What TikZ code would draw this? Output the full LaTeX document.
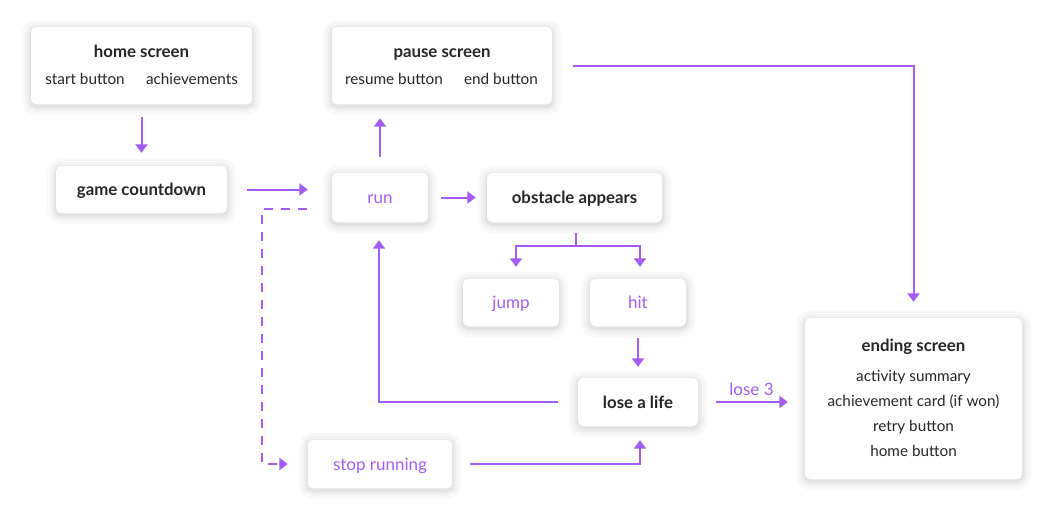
\documentclass[tikz,border=0pt]{standalone}
\usepackage{fontspec}
\setmainfont{Lato}
\usetikzlibrary{arrows.meta,calc}
\definecolor{purp}{HTML}{A35CF6}
\definecolor{ink}{HTML}{262626}
\begin{document}
\begin{tikzpicture}[x=1pt,y=-1pt,
  softshadow/.style={
    preaction={draw=black, draw opacity=0.022, line width=18pt, transform canvas={yshift=-2pt}},
    preaction={draw=black, draw opacity=0.025, line width=12pt, transform canvas={yshift=-2pt}},
    preaction={draw=black, draw opacity=0.03, line width=7pt, transform canvas={yshift=-2pt}},
    preaction={draw=black, draw opacity=0.035, line width=3pt, transform canvas={yshift=-2pt}}},
  box/.style={softshadow, fill=white, rounded corners=5pt, inner sep=0pt, text=ink},
  ttl/.style={font=\fontsize{16.8}{19}\selectfont\bfseries, text=ink, text height=13pt, text depth=1pt, inner sep=0pt},
  txt/.style={font=\fontsize{15.3}{18}\selectfont, text=ink, text height=12pt, text depth=1pt, inner sep=0pt},
  ptxt/.style={font=\fontsize{17}{19}\selectfont, text=purp, text height=13pt, text depth=1pt},
  conn/.style={draw=purp, line width=2pt},
  arr/.style={conn, -{Triangle[width=12pt,length=8.5pt]}},
  dasharr/.style={arr, dash pattern=on 9pt off 8pt}]
\useasboundingbox (0,0) rectangle (1054,523);
\fill[white] (0,0) rectangle (1054,523);

% boxes
\node[box, minimum width=221pt, minimum height=77pt] (home) at (141.5,65.5) {};
\node[box, minimum width=220pt, minimum height=77pt] (pause) at (442,65.5) {};
\node[box, minimum width=171pt, minimum height=47pt, ttl] (count) at (141.5,189.5) {game countdown};
\node[box, minimum width=96pt, minimum height=49pt, ptxt] (run) at (380,197.5) {run};
\node[box, minimum width=175pt, minimum height=49pt, ttl] (obst) at (574.5,197.5) {obstacle appears};
\node[box, minimum width=96pt, minimum height=47pt, ptxt] (jump) at (511,302.5) {jump};
\node[box, minimum width=96pt, minimum height=47pt, ptxt] (hit) at (638,302.5) {hit};
\node[box, minimum width=120pt, minimum height=48pt, ttl] (lose) at (638,402) {lose a life};
\node[box, minimum width=144pt, minimum height=48pt, ptxt] (stop) at (380,464) {stop running};
\node[box, minimum width=217pt, minimum height=161pt] (end) at (913.5,398.5) {};

% texts inside multi-line boxes
\node[ttl] (homet) at (141.5,51) {home screen};
\node[txt] (homea) at (85,79) {start button};
\node[txt] (homeb) at (192,79) {achievements};
\node[ttl] (pauset) at (442,51) {pause screen};
\node[txt] (pausea) at (394,79) {resume button};
\node[txt] (pauseb) at (501,79) {end button};
\node[ttl] (endt) at (913.5,345) {ending screen};
\node[txt] (enda) at (913.5,376) {activity summary};
\node[txt] (endb) at (913.5,401) {achievement card (if won)};
\node[txt] (endc) at (913.5,426) {retry button};
\node[txt] (endd) at (913.5,451) {home button};

% connectors
\draw[arr, shorten <=13pt, shorten >=13pt] (home.south) -- (count.north);
\draw[arr, shorten <=20pt, shorten >=24pt] (count.east) -- (count.east -| run.west);
\draw[arr, shorten <=16pt, shorten >=14pt] (run.north) -- (run.north |- pause.south);
\draw[arr, shorten <=13pt, shorten >=11pt] (run.east) -- (obst.west);
\coordinate (split) at (576,246);
\draw[conn, shorten <=11pt] ([xshift=1.5pt]obst.south) -- (split);
\draw[arr, shorten >=12pt] (split) -| ([xshift=5pt]jump.north);
\draw[arr, shorten >=12pt] (split) -| ([xshift=2pt]hit.north);
\draw[arr, shorten <=12pt, shorten >=11pt] (hit.south) -- (lose.north);
\draw[arr, shorten <=20pt, shorten >=18pt] (lose.west) -| ([xshift=-1pt]run.south);
\draw[arr, shorten <=18pt, shorten >=17pt] (lose.east) -- (lose.east -| end.west)
  node[midway, above=3pt, ptxt, inner sep=0pt, text height=11pt, text depth=3pt] (lose3) {lose 3};
\draw[arr, shorten <=21pt, shorten >=16pt] (pause.east) -| (end.north);
\coordinate (dl) at (262,209);
\draw[dasharr, shorten <=25pt, shorten >=20pt] ([yshift=-11.5pt]run.west) -- (dl) |- (stop.west);
\draw[arr, shorten <=18pt, shorten >=14pt] (stop.east) -| ([xshift=2pt]lose.south);
\end{tikzpicture}
\end{document}
